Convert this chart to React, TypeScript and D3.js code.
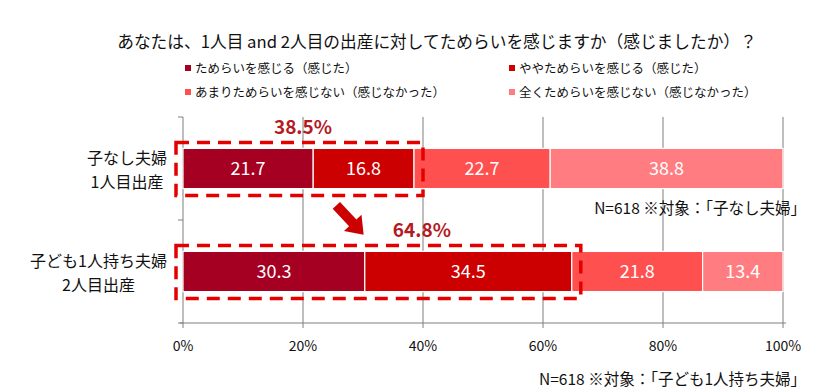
import React, { useEffect } from 'react';
import * as d3 from 'd3';

const title = 'あなたは、1人目 and 2人目の出産に対してためらいを感じますか（感じましたか）？';
const seriesNames = [
  'ためらいを感じる（感じた）',
  'ややためらいを感じる（感じた）',
  'あまりためらいを感じない（感じなかった）',
  '全くためらいを感じない（感じなかった）',
];
const seriesColors = ['#A50021', '#CC0000', '#FF5050', '#FF7C80'];
const categories = ['g1', 'g2'];
const categoryLines = [
  ['子なし夫婦', '1人目出産'],
  ['子ども1人持ち夫婦', '2人目出産'],
];
const values = [
  [21.7, 16.8, 22.7, 38.8],
  [30.3, 34.5, 21.8, 13.4],
];
const highlightLabels = ['38.5%', '64.8%'];
const notes = ['N=618 ※対象：「子なし夫婦」', 'N=618 ※対象：「子ども1人持ち夫婦」'];
const xTicks = [0, 20, 40, 60, 80, 100];

const W = 826;
const H = 392;
const FONT = '"Noto Sans CJK JP", "Noto Sans", sans-serif';

const App = () => {
  useEffect(() => {
    document.body.style.margin = '0';
  }, []);

  const x = d3.scaleLinear().domain([0, 100]).range([183, 783]);
  const y = d3.scaleBand().domain(categories).range([117, 323]).paddingInner(0.61).paddingOuter(0.305);
  const bw = y.bandwidth();

  const stacks = values.map((row) => {
    let acc = 0;
    return row.map((v) => {
      const s = { x0: acc, x1: acc + v, v };
      acc += v;
      return s;
    });
  });

  const red = '#E50000';
  const labelRed = '#B51A1F';

  // arrow between the two boxes
  const ax = 350;
  const ay = (y('g1')! + bw + y('g2')!) / 2;
  const arrowPath = 'M-20,-5 L4,-5 L4,-12 L20,0 L4,12 L4,5 L-20,5 Z';

  return (
    <svg width={W} height={H} style={{ display: 'block', background: '#fff' }} fontFamily={FONT}>
      <text x={437} y={48} textAnchor="middle" fontSize={16.7} fill="#111">{title}</text>

      {/* legend */}
      {seriesNames.map((name, i) => {
        const lx = i % 2 === 0 ? 185 : 509;
        const ly = i < 2 ? 68 : 92;
        return (
          <g key={name}>
            <rect x={lx} y={ly - 3} width={6} height={6} fill={seriesColors[i]} />
            <text x={lx + 10} y={ly + 4.5} fontSize={12.5} fill="#111">{name}</text>
          </g>
        );
      })}

      {/* grid */}
      {xTicks.slice(1).map((t) => (
        <line key={t} x1={x(t)} x2={x(t)} y1={117} y2={323} stroke="#7f7f7f" strokeWidth={1} />
      ))}
      <line x1={x(0)} x2={x(0)} y1={117} y2={323} stroke="#7f7f7f" />
      {[117, 220, 323].map((t) => (
        <line key={t} x1={x(0) - 5} x2={x(0)} y1={t} y2={t} stroke="#7f7f7f" />
      ))}
      <line x1={x(0) - 3} x2={x(100) + 3} y1={323} y2={323} stroke="#7f7f7f" />
      {xTicks.map((t) => (
        <g key={t}>
          <line x1={x(t)} x2={x(t)} y1={323} y2={328} stroke="#7f7f7f" />
          <text x={x(t)} y={351} textAnchor="middle" fontSize={14} fill="#111">{t}%</text>
        </g>
      ))}

      {/* bars */}
      {stacks.map((row, ci) => (
        <g key={ci}>
          {row.map((s, si) => (
            <g key={si}>
              <rect
                x={x(s.x0)}
                y={y(categories[ci])}
                width={x(s.x1) - x(s.x0)}
                height={bw}
                fill={seriesColors[si]}
                stroke="#fff"
                strokeWidth={1.2}
              />
              <text
                x={(x(s.x0) + x(s.x1)) / 2}
                y={y(categories[ci])! + bw / 2 + 6.5}
                textAnchor="middle"
                fontSize={18}
                fill="#fff"
              >
                {s.v.toFixed(1)}
              </text>
            </g>
          ))}
        </g>
      ))}

      {/* category labels */}
      {categoryLines.map((lines, ci) => {
        const widest = Math.max(...lines.map((l) => l.length * 16 - (l.match(/[0-9]/g) || []).length * 7));
        const cx = 167 - widest / 2;
        const cy = y(categories[ci])! + bw / 2;
        return (
          <g key={ci}>
            <text x={cx} y={cy - 5} textAnchor="middle" fontSize={16} fill="#111">{lines[0]}</text>
            <text x={cx} y={cy + 19} textAnchor="middle" fontSize={16} fill="#111">{lines[1]}</text>
          </g>
        );
      })}

      {/* highlight boxes */}
      {stacks.map((row, ci) => {
        const cum = row[1].x1;
        const top = y(categories[ci])!;
        const right = x(cum) + 9;
        return (
          <g key={ci}>
            <rect
              x={x(0) - 7}
              y={top - 6}
              width={right - (x(0) - 7)}
              height={bw + 13}
              fill="none"
              stroke={red}
              strokeWidth={3.5}
              strokeDasharray="13,8"
            />
            <text
              x={(x(0) + right) / 2 + (ci === 0 ? 0 : 40)}
              y={top - 14}
              textAnchor="middle"
              fontSize={19}
              fontWeight="bold"
              fill={labelRed}
            >
              {highlightLabels[ci]}
            </text>
          </g>
        );
      })}

      <path d={arrowPath} transform={`translate(${ax},${ay}) rotate(47)`} fill="#CC0000" />

      <text x={806} y={214} textAnchor="end" fontSize={15.5} fill="#111">{notes[0]}</text>
      <text x={806} y={385} textAnchor="end" fontSize={15.5} fill="#111">{notes[1]}</text>
    </svg>
  );
};

export default App;
